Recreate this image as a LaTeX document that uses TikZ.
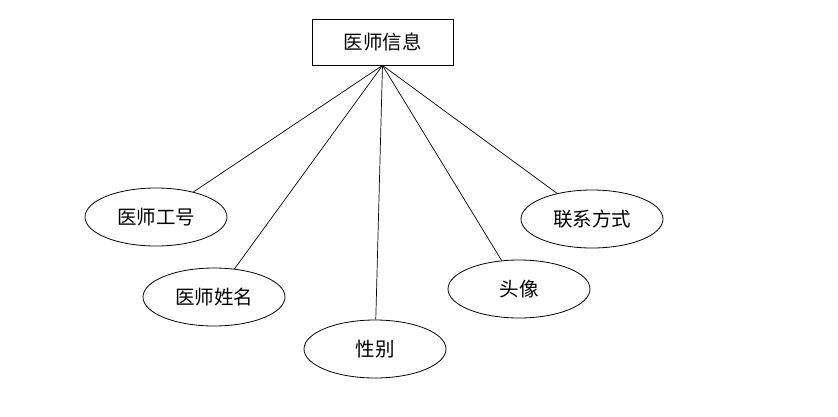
\documentclass[tikz,border=0pt]{standalone}
\usepackage{fontspec}
\setmainfont{Noto Sans CJK SC}
\usetikzlibrary{shapes.geometric}
\begin{document}
\begin{tikzpicture}[x=1pt,y=-1pt,
  attr/.style={draw, ellipse, line width=0.8pt, minimum width=142pt, minimum height=58pt, inner sep=0pt, font=\fontsize{19.5}{21}\selectfont},
  ent/.style={draw, rectangle, line width=0.8pt, minimum width=141pt, minimum height=46pt, inner sep=0pt, font=\fontsize{19.5}{21}\selectfont},
  conn/.style={line width=0.7pt}]
\useasboundingbox[fill=white] (0,0) rectangle (838,416);
\node[ent] (top) at (382.5,42) {医师信息};
\node[attr] (e1) at (156,217) {医师工号};
\node[attr] (e2) at (214,297) {医师姓名};
\node[attr] (e3) at (375,349) {性别};
\node[attr] (e4) at (519,289) {头像};
\node[attr] (e5) at (592,219) {联系方式};
\draw[conn] (top.south) -- (e1);
\draw[conn] (top.south) -- (e2);
\draw[conn] (top.south) -- (e3);
\draw[conn] (top.south) -- (e4);
\draw[conn] (top.south) -- (e5);
\end{tikzpicture}
\end{document}
